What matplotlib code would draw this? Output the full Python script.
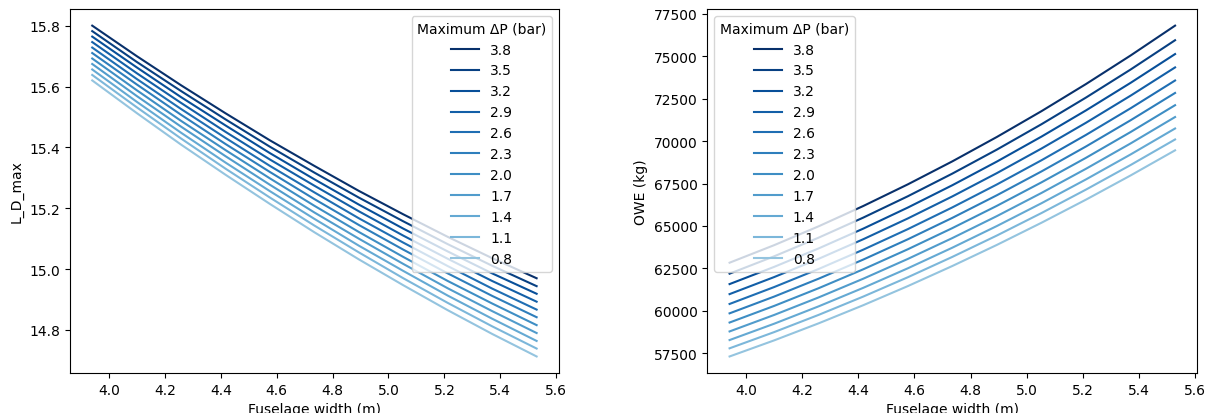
import numpy as np
import matplotlib
matplotlib.use("Agg")
import matplotlib.pyplot as plt

# fuselage width sweep (m) and cabin pressure differential levels (bar)
width = [3.94, 4.099, 4.258, 4.417, 4.576, 4.735, 4.894, 5.053, 5.212, 5.371, 5.53]
dp = [3.8, 3.5, 3.2, 2.9, 2.6, 2.3, 2.0, 1.7, 1.4, 1.1, 0.8]

# max lift-to-drag ratio, one row per pressure level
ld_max = [
    [15.800, 15.700, 15.604, 15.512, 15.423, 15.339, 15.257, 15.180, 15.106, 15.036, 14.970],
    [15.782, 15.681, 15.585, 15.492, 15.402, 15.317, 15.235, 15.157, 15.082, 15.011, 14.944],
    [15.764, 15.663, 15.565, 15.472, 15.381, 15.295, 15.212, 15.133, 15.058, 14.986, 14.919],
    [15.746, 15.644, 15.546, 15.451, 15.360, 15.274, 15.190, 15.110, 15.034, 14.961, 14.893],
    [15.728, 15.625, 15.526, 15.431, 15.339, 15.252, 15.167, 15.087, 15.010, 14.936, 14.867],
    [15.710, 15.607, 15.507, 15.411, 15.319, 15.230, 15.145, 15.064, 14.986, 14.912, 14.842],
    [15.692, 15.588, 15.487, 15.391, 15.298, 15.208, 15.122, 15.040, 14.961, 14.887, 14.816],
    [15.674, 15.569, 15.468, 15.371, 15.277, 15.186, 15.100, 15.017, 14.937, 14.862, 14.790],
    [15.656, 15.550, 15.448, 15.350, 15.256, 15.165, 15.077, 14.994, 14.913, 14.837, 14.764],
    [15.638, 15.532, 15.429, 15.330, 15.235, 15.143, 15.055, 14.970, 14.889, 14.812, 14.739],
    [15.620, 15.513, 15.409, 15.310, 15.214, 15.121, 15.032, 14.947, 14.865, 14.787, 14.713],
]

# operating empty weight (kg)
owe = [
    [62835, 63868, 64982, 66177, 67453, 68810, 70249, 71768, 73369, 75050, 76813],
    [62188, 63211, 64313, 65493, 66751, 68088, 69504, 70998, 72572, 74222, 75953],
    [61574, 62588, 63678, 64843, 66085, 67403, 68798, 70268, 71815, 73437, 75137],
    [60983, 61987, 63065, 64218, 65443, 66743, 68117, 69564, 71086, 72681, 74350],
    [60402, 61398, 62465, 63603, 64813, 66095, 67448, 68873, 70370, 71938, 73578],
    [59849, 60836, 61893, 63019, 64214, 65478, 66812, 68215, 69688, 71231, 72843],
    [59307, 60286, 61332, 62445, 63626, 64874, 66188, 67571, 69020, 70537, 72122],
    [58782, 59753, 60789, 61890, 63056, 64287, 65583, 66946, 68373, 69865, 71424],
    [58274, 59236, 60262, 61352, 62504, 63720, 64998, 66340, 67746, 69215, 70748],
    [57787, 58742, 59759, 60837, 61976, 63177, 64438, 65761, 67146, 68592, 70101],
    [57306, 58254, 59261, 60328, 61454, 62640, 63884, 65189, 66553, 67977, 69461],
]

colors = plt.cm.Blues(np.linspace(1.0, 0.4, len(dp)))

fig = plt.figure(figsize=(12.07, 4.14), dpi=100)
ax1 = fig.add_axes([0.058, 0.0966, 0.405, 0.879])
ax2 = fig.add_axes([0.586, 0.0966, 0.406, 0.879])

for i, p in enumerate(dp):
    ax1.plot(width, ld_max[i], color=colors[i], label=str(p))
    ax2.plot(width, owe[i], color=colors[i], label=str(p))

ax1.set_xlabel("Fuselage width (m)")
ax1.set_ylabel("L_D_max")
ax1.legend(title="Maximum ΔP (bar)", loc="upper right")

ax2.set_xlabel("Fuselage width (m)")
ax2.set_ylabel("OWE (kg)")
ax2.legend(title="Maximum ΔP (bar)", loc="upper left")

fig.savefig("out.png", dpi=100)
